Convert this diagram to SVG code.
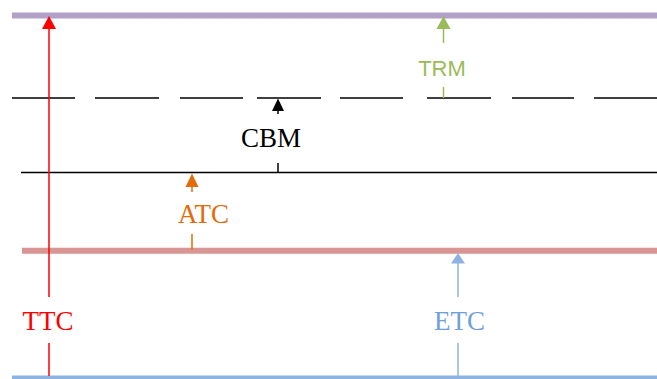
<svg xmlns="http://www.w3.org/2000/svg" width="657" height="379" viewBox="0 0 657 379">
<style>
.serif{font-family:"Liberation Serif","Times New Roman",serif;font-size:27px;text-anchor:middle}
.sans{font-family:"Liberation Sans",Arial,sans-serif;font-size:22px;text-anchor:middle}
.ln{stroke-width:1.5}
</style>
<rect width="657" height="379" fill="#ffffff"/>
<g id="levels">
<line id="level-top" x1="12" y1="15.5" x2="657" y2="15.5" stroke="#b1a0c7" stroke-width="6"/>
<path id="level-dashed" d="M12,98H75M95,98H159M180,98H243M257,98H321M340,98H403M427,98H491M512,98H574M594,98H657" stroke="#000" stroke-width="1.5" fill="none"/>
<line id="level-solid" x1="21" y1="172.5" x2="657" y2="172.5" stroke="#000" stroke-width="1.5"/>
<line id="level-pink" x1="22" y1="250.8" x2="657" y2="250.8" stroke="#d99594" stroke-width="6"/>
<line id="level-bottom" x1="12" y1="377.5" x2="657" y2="377.5" stroke="#8db3e2" stroke-width="4"/>
</g>
<g id="connectors">
<g id="ttc-arrow">
<path d="M42,29 L49,16 L56,29 Z" fill="#ff0000"/>
<line class="ln" x1="49" y1="28" x2="49" y2="297" stroke="#ff0000"/>
<line class="ln" x1="49" y1="343" x2="49" y2="376" stroke="#ff0000"/>
</g>
<g id="trm-arrow">
<path d="M436.5,29 L443.5,16 L450.5,29 Z" fill="#9bbb59"/>
<line class="ln" x1="443.5" y1="28" x2="443.5" y2="43" stroke="#9bbb59"/>
<line class="ln" x1="443.5" y1="87" x2="443.5" y2="98" stroke="#9bbb59"/>
</g>
<g id="cbm-arrow">
<path d="M272,111 L278,98.5 L284,111 Z" fill="#000"/>
<line class="ln" x1="278" y1="110" x2="278" y2="114" stroke="#000"/>
<line class="ln" x1="278" y1="163" x2="278" y2="172" stroke="#000"/>
</g>
<g id="atc-arrow">
<path d="M185.5,187 L192,173.5 L198.5,187 Z" fill="#e36c0a"/>
<line class="ln" x1="192" y1="186" x2="192" y2="192" stroke="#e36c0a"/>
<line class="ln" x1="192" y1="234" x2="192" y2="250" stroke="#e36c0a"/>
</g>
<g id="etc-arrow">
<path d="M451,263.5 L458,253 L465,263.5 Z" fill="#8db3e2"/>
<line class="ln" x1="458" y1="263" x2="458" y2="297" stroke="#8db3e2"/>
<line class="ln" x1="458" y1="343" x2="458" y2="376" stroke="#8db3e2"/>
</g>
</g>
<g id="label-ttc"><text class="serif" x="48" y="330" fill="#ff0000">TTC</text></g>
<g id="label-trm"><text class="sans" x="442" y="76" fill="#9bbb59">TRM</text></g>
<g id="label-cbm"><text class="serif" x="271" y="146.5" fill="#000">CBM</text></g>
<g id="label-atc"><text class="serif" x="203.5" y="223" fill="#e36c0a">ATC</text></g>
<g id="label-etc"><text class="serif" x="459.5" y="330" fill="#6f9fdc">ETC</text></g>
</svg>
